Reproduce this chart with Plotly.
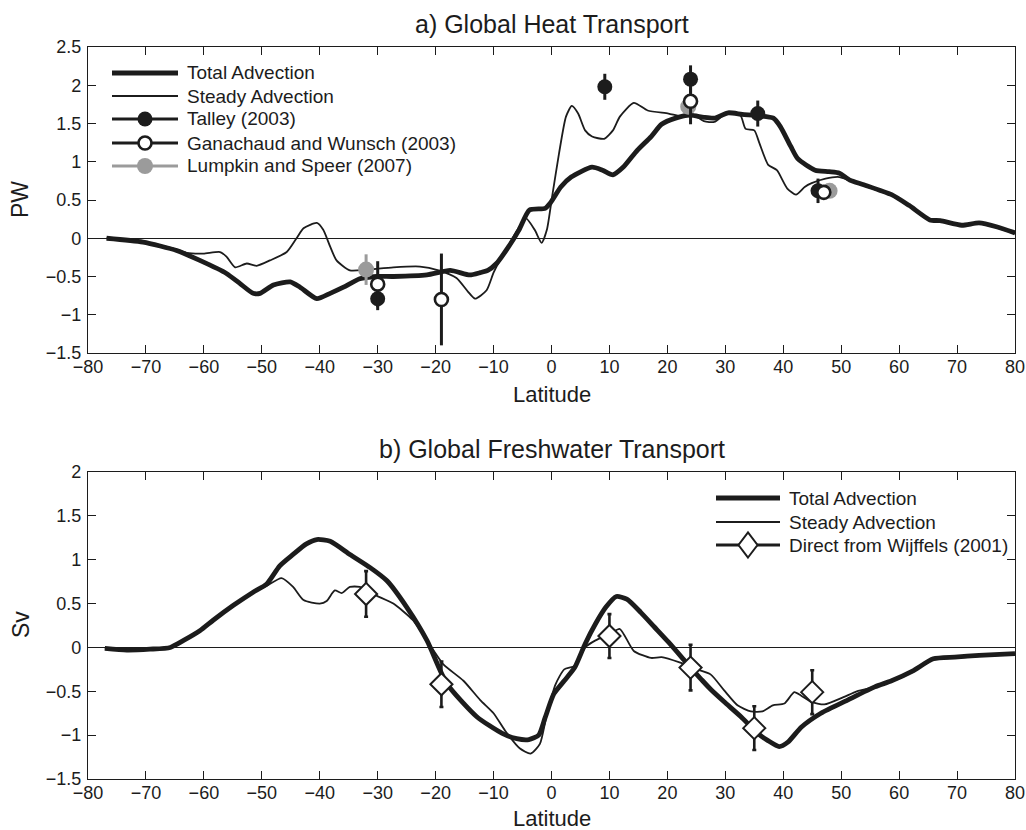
import plotly.graph_objects as go

W, H = 1026, 830

# ---------------- a) Global heat transport (PW) ----------------
heat_total_lat = [-76.8, -70.5, -64.7, -60.7, -56.1, -53.8, -51.5, -50.3, -48.0, -45.1,
                  -43.4, -40.5, -38.2, -35.9, -33.1, -30.2, -27.3, -21.5, -17.5, -14.1,
                  -12.3, -11.0, -9.5, -7.4, -5.6, -3.8, -1.1, -0.2, 1.6, 3.4,
                  7.0, 8.8, 10.6, 12.4, 14.8, 17.2, 19.0, 21.4, 23.9, 26.3,
                  28.1, 30.5, 32.9, 35.9, 38.3, 39.5, 41.3, 42.5, 45.5, 47.9,
                  49.7, 51.5, 53.9, 58.7, 61.7, 65.3, 67.1, 70.8, 73.8, 76.8, 80.0]
heat_total = [0.00, -0.05, -0.16, -0.29, -0.46, -0.59, -0.72, -0.72, -0.61, -0.57,
              -0.64, -0.79, -0.72, -0.64, -0.53, -0.50, -0.50, -0.48, -0.42, -0.48,
              -0.45, -0.42, -0.33, -0.11, 0.11, 0.37, 0.39, 0.46, 0.67, 0.80,
              0.93, 0.89, 0.83, 0.93, 1.15, 1.33, 1.49, 1.57, 1.61, 1.58,
              1.57, 1.64, 1.62, 1.60, 1.57, 1.46, 1.20, 1.04, 0.89, 0.87,
              0.85, 0.76, 0.70, 0.57, 0.43, 0.24, 0.23, 0.17, 0.20, 0.15, 0.07]

heat_steady_lat = [-76.8, -70.5, -65.5, -63.0, -60.1, -57.2, -56.1, -54.6, -52.6, -50.9,
                   -48.6, -45.7, -44.0, -42.8, -40.5, -39.4, -38.2, -37.1, -34.8, -31.9,
                   -27.3, -22.7, -19.5, -16.4, -14.4, -13.2, -11.2, -10.0, -9.0, -8.0,
                   -6.2, -4.4, -2.9, -1.7, -0.8, 0.1, 1.3, 2.5, 3.5, 4.6,
                   5.8, 7.0, 9.1, 10.6, 11.8, 14.2, 16.6, 20.2, 22.7, 23.9,
                   26.3, 28.1, 30.5, 32.6, 33.5, 35.0, 35.9, 37.4, 38.9, 40.7,
                   42.2, 43.7, 44.9, 47.3, 49.7, 52.7, 53.9, 58.7, 61.7, 65.3,
                   67.1, 70.8, 73.8, 76.8, 80.0]
heat_steady = [0.00, -0.05, -0.13, -0.19, -0.20, -0.18, -0.24, -0.38, -0.33, -0.36,
               -0.29, -0.18, 0.00, 0.13, 0.20, 0.11, -0.11, -0.29, -0.42, -0.41,
               -0.38, -0.37, -0.42, -0.52, -0.70, -0.79, -0.68, -0.45, -0.30, -0.18,
               0.07, 0.26, 0.11, -0.06, 0.11, 0.54, 1.11, 1.59, 1.73, 1.63,
               1.41, 1.33, 1.30, 1.41, 1.59, 1.77, 1.67, 1.63, 1.59, 1.64,
               1.53, 1.52, 1.65, 1.61, 1.43, 1.41, 1.24, 0.96, 0.89, 0.65,
               0.57, 0.67, 0.72, 0.78, 0.80, 0.72, 0.69, 0.56, 0.42, 0.23,
               0.22, 0.16, 0.19, 0.14, 0.06]

talley_lat = [-30.0, 9.2, 24.0, 35.6, 46.0]
talley_pw = [-0.79, 1.98, 2.08, 1.63, 0.62]
talley_err = [0.15, 0.17, 0.18, 0.17, 0.16]

ganachaud_lat = [-30.0, -19.0, 24.0, 47.0]
ganachaud_pw = [-0.60, -0.80, 1.79, 0.60]
ganachaud_err = [0.30, 0.60, 0.30, 0.05]

lumpkin_lat = [-32.0, 23.6, 48.0]
lumpkin_pw = [-0.41, 1.72, 0.62]
lumpkin_err = [0.20, 0.05, 0.05]

# ---------------- b) Global freshwater transport (Sv) ----------------
fw_total_lat = [-77.1, -73.3, -69.3, -65.8, -63.5, -60.7, -58.4, -54.9, -51.5, -49.2,
                -46.9, -44.6, -42.3, -40.5, -38.2, -34.8, -31.3, -28.4, -25.0, -21.5,
                -18.1, -12.9, -8.5, -6.0, -3.9, -2.2, -1.1, 0.4, 2.2, 4.0,
                5.8, 7.6, 9.4, 11.2, 13.0, 15.4, 17.8, 20.2, 22.7, 24.0,
                25.8, 27.5, 29.8, 32.7, 35.6, 37.3, 39.3, 40.8, 43.1, 46.5,
                51.1, 55.8, 58.7, 62.3, 65.9, 69.6, 73.8, 80.0]
fw_total = [-0.01, -0.03, -0.02, 0.00, 0.08, 0.19, 0.31, 0.48, 0.63, 0.72,
            0.93, 1.06, 1.18, 1.23, 1.21, 1.06, 0.91, 0.76, 0.46, 0.08,
            -0.41, -0.79, -0.98, -1.04, -1.05, -1.00, -0.80, -0.53, -0.38, -0.23,
            0.04, 0.27, 0.46, 0.58, 0.55, 0.40, 0.23, 0.06, -0.13, -0.23,
            -0.36, -0.48, -0.62, -0.79, -0.98, -1.06, -1.13, -1.08, -0.91, -0.75,
            -0.60, -0.45, -0.38, -0.27, -0.13, -0.11, -0.09, -0.07]

fw_steady_lat = [-77.1, -73.3, -69.3, -65.8, -63.5, -60.7, -58.4, -54.9, -51.5, -49.2,
                 -46.6, -44.6, -42.8, -40.0, -38.8, -37.4, -36.2, -34.8, -33.1, -30.2,
                 -27.3, -23.9, -21.5, -18.7, -15.2, -12.3, -10.0, -8.0, -5.5, -3.6,
                 -2.0, -0.8, 0.7, 2.2, 4.0, 5.8, 7.6, 10.0, 11.8, 14.2,
                 17.2, 19.0, 22.1, 25.1, 27.5, 29.8, 32.1, 34.4, 36.4, 38.2,
                 40.2, 41.9, 43.1, 44.8, 47.1, 50.3, 52.7, 55.8, 58.7, 62.3,
                 65.9, 69.6, 73.8, 80.0]
fw_steady = [-0.01, -0.03, -0.02, 0.00, 0.08, 0.19, 0.31, 0.48, 0.63, 0.70,
             0.79, 0.69, 0.54, 0.50, 0.53, 0.65, 0.62, 0.69, 0.69, 0.59,
             0.50, 0.31, 0.08, -0.19, -0.38, -0.60, -0.75, -0.95, -1.15, -1.21,
             -1.10, -0.76, -0.42, -0.25, -0.21, 0.00, 0.08, 0.15, 0.21, -0.04,
             -0.12, -0.11, -0.17, -0.25, -0.31, -0.49, -0.66, -0.73, -0.73, -0.66,
             -0.64, -0.51, -0.55, -0.62, -0.65, -0.57, -0.50, -0.45, -0.39, -0.28,
             -0.14, -0.12, -0.10, -0.08]

wijffels_lat = [-32.0, -19.0, 10.0, 24.0, 35.0, 45.0]
wijffels_sv = [0.61, -0.42, 0.13, -0.23, -0.92, -0.51]
wijffels_err = [0.26, 0.26, 0.25, 0.26, 0.25, 0.25]

heat_legend = ["Total Advection", "Steady Advection", "Talley (2003)",
               "Ganachaud and Wunsch (2003)", "Lumpkin and Speer (2007)"]
fw_legend = ["Total Advection", "Steady Advection", "Direct from Wijffels (2001)"]

# ---------------- styling ----------------
INK = "#1c1c1c"
GREY = "#9b9b9b"
FONT = "Liberation Sans, Arial, Helvetica, sans-serif"
THICK, THIN = 4.8, 1.8


def px(x):
    return x / W


def py(y):
    return 1 - y / H


fig = go.Figure()

# panel a
fig.add_trace(go.Scatter(x=heat_total_lat, y=heat_total, mode="lines",
                         line=dict(color=INK, width=THICK, shape="spline", smoothing=0.6),
                         xaxis="x", yaxis="y"))
fig.add_trace(go.Scatter(x=heat_steady_lat, y=heat_steady, mode="lines",
                         line=dict(color=INK, width=THIN, shape="spline", smoothing=0.6),
                         xaxis="x", yaxis="y"))
fig.add_trace(go.Scatter(x=lumpkin_lat, y=lumpkin_pw, mode="markers",
                         marker=dict(symbol="circle", size=16, color=GREY, line=dict(width=0)),
                         error_y=dict(type="data", array=lumpkin_err, color=GREY, thickness=3, width=0),
                         xaxis="x", yaxis="y"))
fig.add_trace(go.Scatter(x=talley_lat, y=talley_pw, mode="markers",
                         marker=dict(symbol="circle", size=15, color=INK, line=dict(width=0)),
                         error_y=dict(type="data", array=talley_err, color=INK, thickness=3, width=0),
                         xaxis="x", yaxis="y"))
fig.add_trace(go.Scatter(x=ganachaud_lat, y=ganachaud_pw, mode="markers",
                         marker=dict(symbol="circle", size=13, color="white",
                                     line=dict(color=INK, width=2.6)),
                         error_y=dict(type="data", array=ganachaud_err, color=INK, thickness=3, width=0),
                         xaxis="x", yaxis="y"))

# panel b
fig.add_trace(go.Scatter(x=fw_total_lat, y=fw_total, mode="lines",
                         line=dict(color=INK, width=THICK, shape="spline", smoothing=0.6),
                         xaxis="x2", yaxis="y2"))
fig.add_trace(go.Scatter(x=fw_steady_lat, y=fw_steady, mode="lines",
                         line=dict(color=INK, width=THIN, shape="spline", smoothing=0.6),
                         xaxis="x2", yaxis="y2"))
fig.add_trace(go.Scatter(x=wijffels_lat, y=wijffels_sv, mode="markers",
                         marker=dict(symbol="diamond", size=17, color="white",
                                     line=dict(color=INK, width=2)),
                         error_y=dict(type="data", array=wijffels_err, color=INK, thickness=2.6, width=2),
                         xaxis="x2", yaxis="y2"))

axis_style = dict(showline=True, linecolor=INK, linewidth=1.3, mirror="ticks",
                  ticks="inside", ticklen=8, tickwidth=1.1, tickcolor=INK,
                  showgrid=False, automargin=False,
                  tickfont=dict(family=FONT, size=18, color=INK))

xdom = [px(88), px(1015)]
fig.update_layout(
    width=W, height=H,
    margin=dict(l=0, r=0, t=0, b=0),
    paper_bgcolor="white", plot_bgcolor="white",
    showlegend=False,
    font=dict(family=FONT, color=INK),
    xaxis=dict(axis_style, domain=xdom, range=[-80, 80], dtick=10, tick0=0,
               zeroline=False, anchor="y", ticklabelstandoff=-3),
    yaxis=dict(axis_style, domain=[py(353), py(47)], range=[-1.5, 2.5], dtick=0.5,
               zeroline=True, zerolinecolor=INK, zerolinewidth=1.3, anchor="x",
               ticklabelstandoff=2),
    xaxis2=dict(axis_style, domain=xdom, range=[-80, 80], dtick=10, tick0=0,
                zeroline=False, anchor="y2", ticklabelstandoff=-3),
    yaxis2=dict(axis_style, domain=[py(779), py(472)], range=[-1.5, 2], dtick=0.5,
                zeroline=True, zerolinecolor=INK, zerolinewidth=1.3, anchor="x2",
                ticklabelstandoff=2),
)

annotations = []
mid_x = (88 + 1015) / 2
text_items = [
    ("a) Global Heat Transport", mid_x, 24, 25, 0),
    ("b) Global Freshwater Transport", mid_x, 449, 25, 0),
    ("Latitude", mid_x, 394, 22, 0),
    ("Latitude", mid_x, 818, 22, 0),
    ("PW", 20, 200, 23, -90),
    ("Sv", 21, 625, 23, -90),
]
for txt, x, y, size, ang in text_items:
    annotations.append(dict(text=txt, x=px(x), y=py(y), xref="paper", yref="paper",
                            xanchor="center", yanchor="middle", showarrow=False,
                            textangle=ang, font=dict(family=FONT, size=size, color=INK)))

shapes = []


def legend_row(y, x0, x1, label, width, color, marker=None):
    shapes.append(dict(type="line", xref="paper", yref="paper", x0=px(x0), x1=px(x1),
                       y0=py(y), y1=py(y), line=dict(color=color, width=width), layer="above"))
    cx = (x0 + x1) / 2
    if marker is not None:
        kind, fill, edge, ew, r = marker
        if kind == "circle":
            shapes.append(dict(type="circle", xref="paper", yref="paper",
                               xsizemode="pixel", ysizemode="pixel",
                               xanchor=px(cx), yanchor=py(y), x0=-r, x1=r, y0=-r, y1=r,
                               fillcolor=fill, line=dict(color=edge, width=ew), layer="above"))
        else:
            shapes.append(dict(type="path", xref="paper", yref="paper",
                               xsizemode="pixel", ysizemode="pixel",
                               xanchor=px(cx), yanchor=py(y),
                               path="M0,-12.5 L9.5,0 L0,12.5 L-9.5,0 Z",
                               fillcolor=fill, line=dict(color=edge, width=ew), layer="above"))
    annotations.append(dict(text=label, x=px(x1 + 7), y=py(y), xref="paper", yref="paper",
                            xanchor="left", yanchor="middle", showarrow=False,
                            font=dict(family=FONT, size=19, color=INK)))


heat_rows = [73, 96, 119, 143, 166]
legend_row(heat_rows[0], 112, 178, heat_legend[0], 5, INK)
legend_row(heat_rows[1], 112, 178, heat_legend[1], 2, INK)
legend_row(heat_rows[2], 112, 178, heat_legend[2], 3, INK, ("circle", INK, INK, 0, 7.5))
legend_row(heat_rows[3], 112, 178, heat_legend[3], 3, INK, ("circle", "white", INK, 2.6, 6.5))
legend_row(heat_rows[4], 112, 178, heat_legend[4], 3, GREY, ("circle", GREY, GREY, 0, 8))

fw_rows = [498, 522, 545]
legend_row(fw_rows[0], 716, 780, fw_legend[0], 5, INK)
legend_row(fw_rows[1], 716, 780, fw_legend[1], 2, INK)
legend_row(fw_rows[2], 716, 780, fw_legend[2], 3, INK, ("diamond", "white", INK, 2, 0))

fig.update_layout(annotations=annotations, shapes=shapes)

fig.write_html("out.html")
